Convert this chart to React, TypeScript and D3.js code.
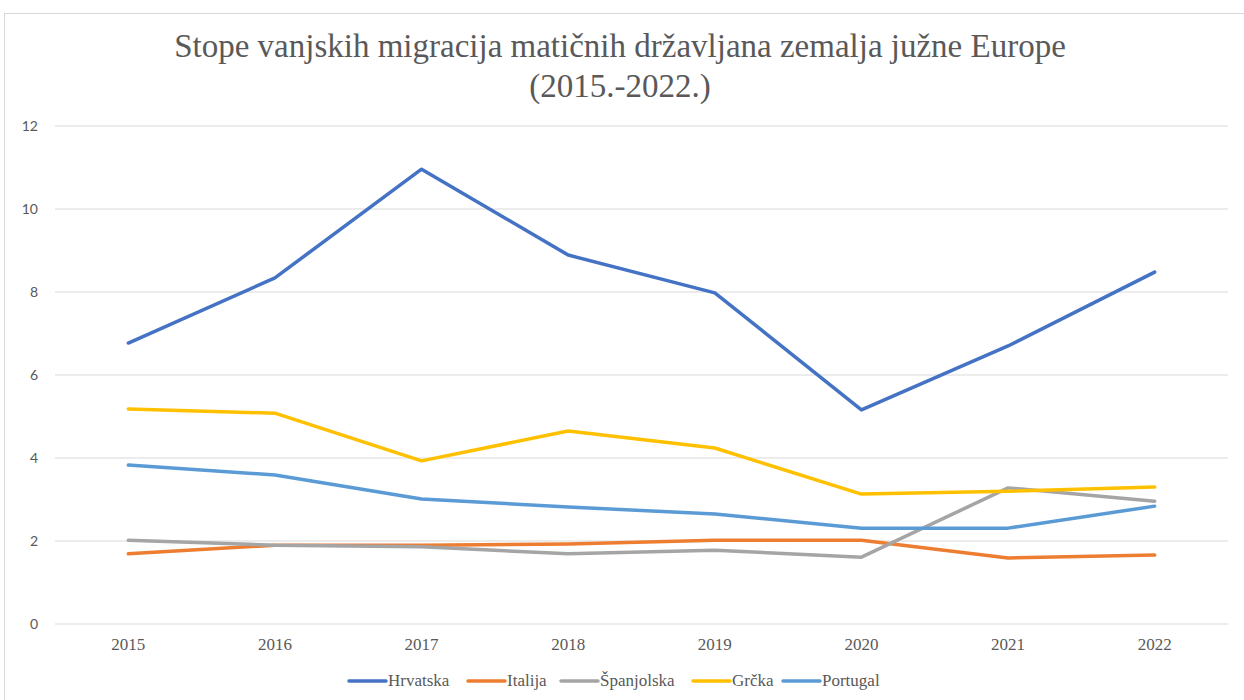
import React from "react";
import * as d3 from "d3";

const years = ["2015", "2016", "2017", "2018", "2019", "2020", "2021", "2022"];
const hrvatska = [6.77, 8.34, 10.96, 8.89, 7.98, 5.16, 6.7, 8.48];
const italija = [1.69, 1.9, 1.9, 1.93, 2.02, 2.02, 1.59, 1.66];
const spanjolska = [2.02, 1.9, 1.86, 1.69, 1.78, 1.61, 3.28, 2.96];
const grcka = [5.18, 5.08, 3.93, 4.65, 4.24, 3.13, 3.2, 3.3];
const portugal = [3.83, 3.59, 3.01, 2.82, 2.65, 2.31, 2.31, 2.84];
const yTicks = [0, 2, 4, 6, 8, 10, 12];

const series = [
  { name: "Hrvatska", values: hrvatska, color: "#4472C4" },
  { name: "Italija", values: italija, color: "#ED7D31" },
  { name: "Španjolska", values: spanjolska, color: "#A5A5A5" },
  { name: "Grčka", values: grcka, color: "#FFC000" },
  { name: "Portugal", values: portugal, color: "#5B9BD5" },
];

const W = 1244;
const H = 700;
const left = 55;
const right = 1228;
const top = 126;
const bottom = 624;
const serif = "'Liberation Serif', 'Times New Roman', serif";

export default function App() {
  const x = d3.scaleBand<string>().domain(years).range([left, right]);
  const y = d3.scaleLinear().domain([0, 12]).range([bottom, top]);
  const line = d3
    .line<number>()
    .x((_, i) => (x(years[i]) as number) + x.bandwidth() / 2)
    .y((d) => y(d));

  const legendStarts = [349, 468, 561, 693, 783];

  return (
    <svg
      width={W}
      height={H}
      style={{ position: "absolute", left: 0, top: 0, display: "block" }}
    >
      <rect x={0} y={0} width={W} height={H} fill="#fff" />
      <rect x={4.5} y={13.5} width={W + 10} height={H + 10} fill="#fff" stroke="#d9d9d9" />
      <text x={620} y={57} textAnchor="middle" fontFamily={serif} fontSize={33} fill="#595959">
        Stope vanjskih migracija matičnih državljana zemalja južne Europe
      </text>
      <text x={620} y={97} textAnchor="middle" fontFamily={serif} fontSize={33} fill="#595959">
        (2015.-2022.)
      </text>
      {yTicks.map((t) => (
        <g key={t}>
          <line x1={left} x2={right} y1={y(t)} y2={y(t)} stroke="#d9d9d9" strokeWidth={1} />
          <text
            x={38}
            y={y(t)}
            dy="0.35em"
            textAnchor="end"
            fontFamily="Lato"
            fontSize={14}
            fill="#595959"
          >
            {t}
          </text>
        </g>
      ))}
      {years.map((yr) => (
        <text
          key={yr}
          x={(x(yr) as number) + x.bandwidth() / 2}
          y={650}
          textAnchor="middle"
          fontFamily={serif}
          fontSize={17}
          fill="#595959"
        >
          {yr}
        </text>
      ))}
      {series.map((s) => (
        <path
          key={s.name}
          d={line(s.values) || ""}
          fill="none"
          stroke={s.color}
          strokeWidth={3.5}
          strokeLinejoin="round"
          strokeLinecap="round"
        />
      ))}
      {series.map((s, i) => (
        <g key={s.name}>
          <line
            x1={legendStarts[i]}
            x2={legendStarts[i] + 37}
            y1={681}
            y2={681}
            stroke={s.color}
            strokeWidth={3.5}
            strokeLinecap="round"
          />
          <text
            x={legendStarts[i] + 39}
            y={686}
            fontFamily={serif}
            fontSize={17}
            fill="#595959"
          >
            {s.name}
          </text>
        </g>
      ))}
    </svg>
  );
}
